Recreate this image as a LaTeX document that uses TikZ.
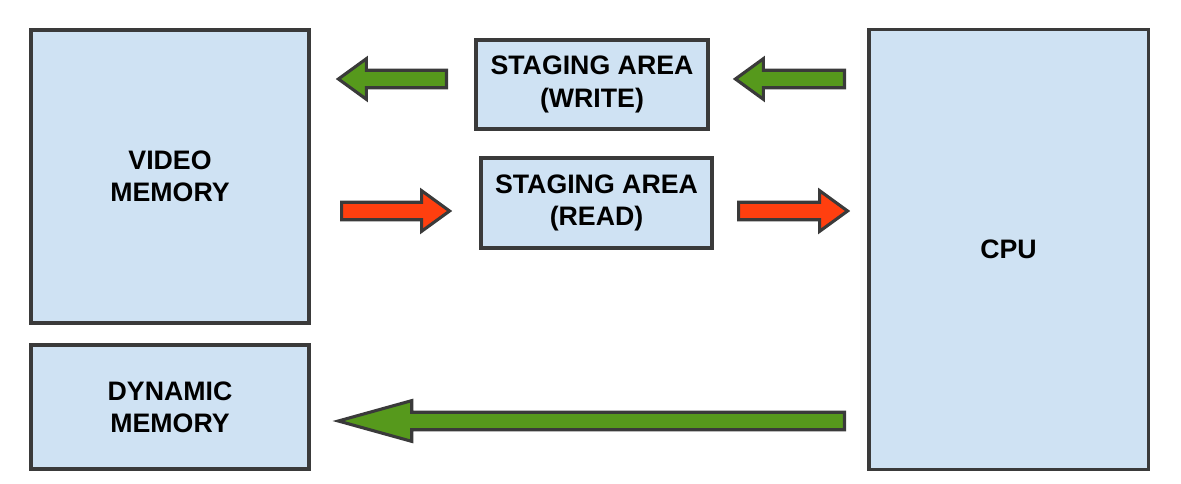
\documentclass[tikz,border=0pt]{standalone}
\usepackage{fontspec}
\setmainfont{Liberation Sans}
\usetikzlibrary{shapes.arrows}
\definecolor{cBox}{HTML}{CFE2F3}
\definecolor{cLine}{HTML}{3A3A3A}
\definecolor{cGo}{HTML}{56991C}
\definecolor{cRed}{HTML}{FF3F0F}
\tikzset{
  mem/.style={draw=cLine,line width=2.2pt,fill=cBox,align=center,
              font=\fontsize{19}{23}\selectfont\bfseries,inner sep=0pt},
  flow/.style={single arrow,draw=cLine,line width=2.2pt,inner xsep=0pt,
              inner ysep=0.18cm,single arrow head extend=0.29cm,
              single arrow tip angle=72,anchor=tail},
  wflow/.style={flow,fill=cGo,shape border rotate=180},
  rflow/.style={flow,fill=cRed},
}

\begin{document}
\begin{tikzpicture}[x=0.025cm,y=-0.025cm]
  \useasboundingbox (0,0) rectangle (1181,484);
  % memory and cpu blocks
  \node[mem,minimum width=6.95cm,minimum height=7.325cm] (vmem) at (170,176.5) {VIDEO\\MEMORY};
  \node[mem,minimum width=6.95cm,minimum height=3.1cm] (dmem) at (170,407) {DYNAMIC\\MEMORY};
  \node[mem,minimum width=6.975cm,minimum height=10.975cm] (cpu) at (1008.5,249.5) {CPU};
  % staging areas
  \node[mem,minimum width=5.8cm,minimum height=2.225cm] (swrite) at (592,84.5) {STAGING AREA\\(WRITE)};
  \node[mem,minimum width=5.775cm,minimum height=2.25cm] (sread) at (596.5,203) {STAGING AREA\\(READ)};
  % block arrows, placed by their tails
  \node[wflow,minimum height=2.7cm] (w1) at (448,79) {};
  \node[wflow,minimum height=2.725cm] (w2) at (846,79) {};
  \node[rflow,minimum height=2.7cm] (r1) at (340,211) {};
  \node[rflow,minimum height=2.725cm] (r2) at (737,211) {};
  \node[wflow,minimum height=12.65cm,single arrow tip angle=31] (dyn) at (846,421) {};
\end{tikzpicture}
\end{document}
